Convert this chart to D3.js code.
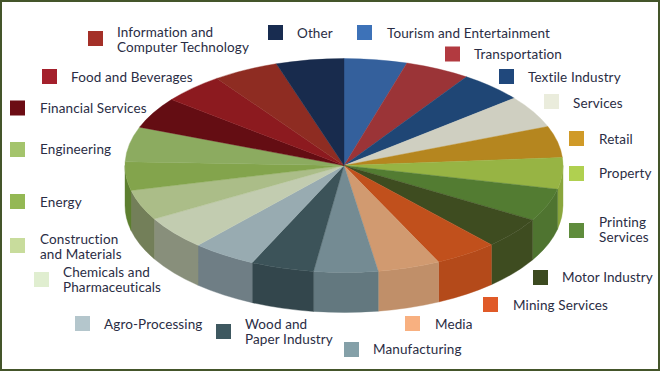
<!DOCTYPE html>
<html>
<head>
<meta charset="utf-8">
<script src="https://cdn.jsdelivr.net/npm/d3@7"></script>
<style>
  html, body { margin: 0; padding: 0; background: #fff; }
  svg { display: block; }
  text { font-family: Lato, sans-serif; font-size: 13.5px; letter-spacing: 0.12px; fill: #2a2d44; }
</style>
</head>
<body>
<svg width="660" height="371"></svg>
<script>
// clockwise from 12 o'clock
var categories = ["Tourism and Entertainment", "Transportation", "Textile Industry", "Services", "Retail",
  "Property", "Printing Services", "Motor Industry", "Mining Services", "Media", "Manufacturing",
  "Wood and Paper Industry", "Agro-Processing", "Chemicals and Pharmaceuticals", "Construction and Materials",
  "Energy", "Engineering", "Financial Services", "Food and Beverages", "Information and Computer Technology", "Other"];
// share of the pie
var values = [16.7, 17.3, 17, 17.6, 17.1, 17.1, 17.8, 17.1, 16.7, 16.6, 17, 16.8, 17, 18.2, 16.5, 15.5, 19, 17, 16.5, 17.5, 18];
var topColors = ["#34609c", "#9b3437", "#1f4675", "#cfcfc1", "#b5861f", "#97b444", "#537c32", "#3e4c20", "#c1501c", "#d19a70", "#748b93",
  "#3c5359", "#98abb1", "#c2ccb0", "#abbd88", "#83a44c", "#8cab60", "#640d13", "#8c1a1f", "#8e2c22", "#182b4d"];
var wallColors = ["#34609c", "#9b3437", "#1f4675", "#cfcfc1", "#b5861f", "#8aa63d", "#4f7430", "#3e4c20", "#b44a1a", "#c08f69", "#63787f",
  "#33464c", "#6f7e85", "#888f7b", "#737f59", "#5d7f30", "#8cab60", "#640d13", "#8c1a1f", "#8e2c22", "#182b4d"];
var legendColors = ["#3d72b8", "#b23a40", "#20487c", "#eaecdc", "#d09a28", "#b0d050", "#5f8c3c", "#3c4a20", "#e05a28", "#f8b080", "#84a0a8",
  "#3e5860", "#b4c6cc", "#e0eed0", "#c8dc9c", "#94b854", "#a4c46c", "#6c0c14", "#a4202c", "#a43028", "#182c50"];
var legendLabels = [["Tourism and Entertainment"], ["Transportation"], ["Textile Industry"], ["Services"], ["Retail"],
  ["Property"], ["Printing", "Services"], ["Motor Industry"], ["Mining Services"], ["Media"], ["Manufacturing"],
  ["Wood and", "Paper Industry"], ["Agro-Processing"], ["Chemicals and", "Pharmaceuticals"], ["Construction", "and Materials"],
  ["Energy"], ["Engineering"], ["Financial Services"], ["Food and Beverages"], ["Information and", "Computer Technology"], ["Other"]];
var legendBoxX = [357, 445, 499, 544, 569, 569, 569, 533, 483, 405, 344, 216, 75, 34, 10, 10, 10, 10, 42, 88, 268];
var legendBoxY = [25, 46.5, 69, 94, 131, 166, 223, 270, 297, 316, 342, 324, 316, 272, 238, 194, 142, 100.5, 69, 31, 25];
var legendTextX = [387, 474, 528, 573, 599, 599, 599, 562, 513, 435, 373, 245, 104, 63, 40, 40, 40, 40, 71, 117, 297];
var legendTextY = [33, 54, 77, 103, 139, 173, 222, 277, 305, 324, 349, 324, 324, 272, 238.5, 202, 149, 108, 77, 31.5, 33];

var svg = d3.select("svg");

svg.append("rect").attr("x", 1).attr("y", 1).attr("width", 658).attr("height", 369)
  .attr("fill", "#fff").attr("stroke", "#44552a").attr("stroke-width", 2);

var cx = 344, cy = 165.5, rx = 219, ry = 107, depth = 40;

var pie = d3.pie().sort(null).value(d => d);
var arcs = pie(values);
var arc = d3.arc().innerRadius(0).outerRadius(rx);

function pt(a, dy) {
  return [cx + rx * Math.sin(a), cy - ry * Math.cos(a) + dy];
}

// walls, only the front half of the ellipse shows
var halfPi = Math.PI / 2;
var walls = arcs.filter(d => d.endAngle > halfPi && d.startAngle < 3 * halfPi);
svg.append("g").selectAll("path").data(walls).enter().append("path")
  .attr("d", function (d) {
    var a0 = Math.max(d.startAngle, halfPi), a1 = Math.min(d.endAngle, 3 * halfPi);
    var p0 = pt(a0, 0), p1 = pt(a1, 0), p2 = pt(a1, depth), p3 = pt(a0, depth);
    return "M" + p0 + "A" + rx + "," + ry + " 0 0 1 " + p1 + "L" + p2 + "A" + rx + "," + ry + " 0 0 0 " + p3 + "Z";
  })
  .attr("fill", d => wallColors[d.index])
  .attr("stroke", d => wallColors[d.index])
  .attr("stroke-width", 0.4);

// top face, arcs squashed into an ellipse
svg.append("g").attr("transform", "translate(" + cx + "," + cy + ") scale(1," + (ry / rx) + ")")
  .selectAll("path").data(arcs).enter().append("path")
  .attr("d", arc)
  .attr("fill", d => topColors[d.index])
  .attr("stroke", d => topColors[d.index])
  .attr("stroke-width", 0.4)
  .attr("vector-effect", "non-scaling-stroke");

// legend
svg.append("g").selectAll("rect").data(categories).enter().append("rect")
  .attr("x", (d, i) => legendBoxX[i]).attr("y", (d, i) => legendBoxY[i])
  .attr("width", 15).attr("height", 15)
  .attr("fill", (d, i) => legendColors[i]);

var labels = svg.append("g").selectAll("text").data(legendLabels).enter().append("text")
  .attr("x", (d, i) => legendTextX[i]).attr("y", (d, i) => legendTextY[i] + 5);
labels.selectAll("tspan").data(d => d).enter().append("tspan")
  .attr("x", function () { return d3.select(this.parentNode).attr("x"); })
  .attr("dy", (d, i) => i ? 15 : 0)
  .text(d => d);
</script>
</body>
</html>
